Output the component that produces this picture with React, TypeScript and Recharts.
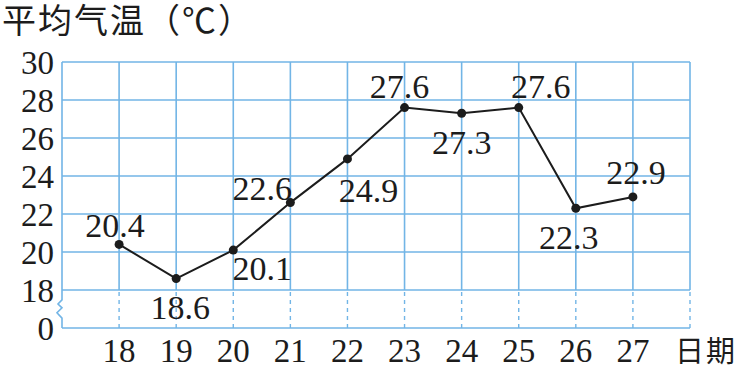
import { LineChart, Line, XAxis, YAxis, CartesianGrid, ReferenceLine, LabelList } from "recharts";

const DAYS = [18, 19, 20, 21, 22, 23, 24, 25, 26, 27];
const TEMPS = [20.4, 18.6, 20.1, 22.6, 24.9, 27.6, 27.3, 27.6, 22.3, 22.9];
const Y_TICKS = [16, 18, 20, 22, 24, 26, 28, 30];
const GRID_X = [18, 19, 20, 21, 22, 23, 24, 25, 26, 27, 28];
const Y_TITLE = "平均气温（℃）";
const X_TITLE = "日期";

// where each number sits, relative to its dot (centre of text)
const LABEL_OFFSETS = [
  [-4, -19],
  [4, 29],
  [29, 18],
  [-28, -14],
  [21, 32],
  [-5, -21],
  [0, 29],
  [22, -21],
  [-7, 29],
  [3, -24],
];

const data = DAYS.map((day, i) => ({ day, temp: TEMPS[i] }));

const GRID = "#72b5e6";
const INK = "#1c1c1c";
const SERIF = "Liberation Serif, Times New Roman, DejaVu Serif, serif";
const CJK = "Noto Sans CJK SC, sans-serif";

function renderLabel(props: any) {
  const { x, y, value, index } = props;
  const [dx, dy] = LABEL_OFFSETS[index] || [0, -20];
  return (
    <text
      x={x + dx}
      y={y + dy + 11.5}
      textAnchor="middle"
      style={{ fontFamily: SERIF }}
      fontSize={34}
      fill={INK}
    >
      {value}
    </text>
  );
}

// left edge with the little break between 0 and 18
function BrokenEdge(props: any) {
  const { x1, y1, x2, y2 } = props;
  const x = x1;
  const top = Math.min(y1, y2);
  const bottom = Math.max(y1, y2);
  const seg = (bottom - top) / 7; // one 2-degree step
  const y18 = bottom - seg;
  const d = [
    `M${x},${top}`,
    `L${x},${y18 + seg * 0.26}`,
    `L${x - 4},${y18 + seg * 0.37}`,
    `L${x},${y18 + seg * 0.47}`,
    `L${x - 5},${y18 + seg * 0.6}`,
    `L${x},${y18 + seg * 0.74}`,
    `L${x},${bottom}`,
  ].join(" ");
  return <path d={d} stroke={GRID} strokeWidth={1.6} fill="none" />;
}

const tickStyle = { fontFamily: SERIF, fontSize: 33, fill: INK };

export default function App() {
  return (
    <div style={{ position: "absolute", left: 0, top: 0, width: 745, height: 368, background: "#fff", fontFamily: SERIF }}>
      <LineChart width={745} height={368} data={data} margin={{ top: 62, right: 55, bottom: 10, left: 12 }}>
        <CartesianGrid vertical={false} stroke={GRID} strokeWidth={1.6} />
        {GRID_X.map((v) => (
          <ReferenceLine
            key={`s${v}`}
            segment={[{ x: v, y: 18 }, { x: v, y: 30 }]}
            stroke={GRID}
            strokeWidth={1.6}
          />
        ))}
        {GRID_X.map((v) => (
          <ReferenceLine
            key={`d${v}`}
            segment={[{ x: v, y: 16 }, { x: v, y: 18 }]}
            stroke={GRID}
            strokeWidth={1.4}
            strokeDasharray="4 4"
          />
        ))}
        <ReferenceLine segment={[{ x: 17, y: 16 }, { x: 17, y: 30 }]} shape={BrokenEdge} />
        <XAxis
          type="number"
          dataKey="day"
          domain={[17, 28]}
          ticks={DAYS}
          interval={0}
          axisLine={false}
          tickLine={false}
          tickMargin={5}
          height={30}
          tick={tickStyle}
        />
        <YAxis
          type="number"
          domain={[16, 30]}
          ticks={Y_TICKS}
          interval={0}
          width={50}
          axisLine={false}
          tickLine={false}
          tickFormatter={(v: number) => (v === 16 ? "0" : String(v))}
          tick={tickStyle}
        />
        <Line
          dataKey="temp"
          stroke={INK}
          strokeWidth={2}
          dot={{ r: 4.5, fill: INK, stroke: INK, strokeWidth: 0 }}
          activeDot={false}
          isAnimationActive={false}
        >
          <LabelList dataKey="temp" content={renderLabel} />
        </Line>
      </LineChart>
      {/* axis titles */}
      <svg
        width={745}
        height={368}
        style={{ position: "absolute", left: 0, top: 0, pointerEvents: "none" }}
      >
        <text x={2} y={33} fontSize={34} fill={INK} style={{ fontFamily: CJK, letterSpacing: 2 }}>
          {Y_TITLE}
        </text>
        <text x={675} y={362} fontSize={29} fill={INK} style={{ fontFamily: CJK, letterSpacing: 2 }}>
          {X_TITLE}
        </text>
      </svg>
    </div>
  );
}
